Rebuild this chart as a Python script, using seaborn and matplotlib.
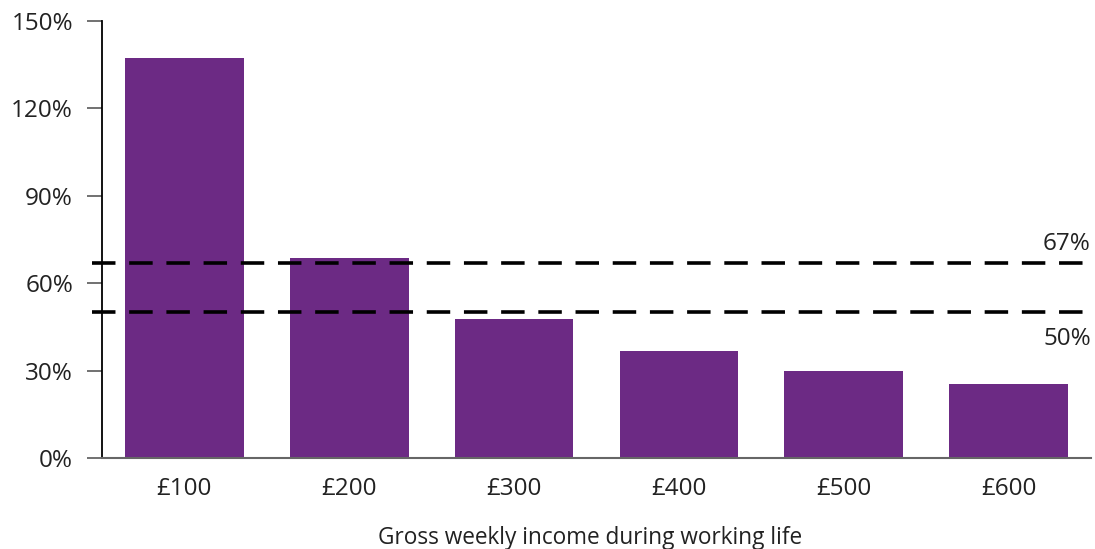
import matplotlib
matplotlib.use("Agg")
import matplotlib.pyplot as plt
import seaborn as sns
import pandas as pd

# Replacement rate by gross weekly income during working life
incomes = ["£100", "£200", "£300", "£400", "£500", "£600"]
replacement_rate = [137.3, 68.6, 47.7, 36.7, 29.9, 25.4]
reference_levels = [67, 50]
y_ticks = [0, 30, 60, 90, 120, 150]

df = pd.DataFrame({"income": incomes, "rate": replacement_rate})

sns.set_theme(style="white")
plt.rcParams["font.family"] = ["Open Sans", "DejaVu Sans"]
text_color = "#222222"

fig = plt.figure(figsize=(10.95, 5.49), dpi=100)
ax = fig.add_axes([102 / 1095, 1 - 458 / 549, (1091 - 102) / 1095, (458 - 21) / 549])

sns.barplot(data=df, x="income", y="rate", color="#6C2A84", saturation=1,
            width=0.72, linewidth=0, ax=ax)

ax.set_xlim(-0.5, 5.5)
ax.set_ylim(0, 150)
ax.set_yticks(y_ticks)
ax.set_yticklabels([f"{v}%" for v in y_ticks])

# Reference lines for 67% and 50% replacement
for lvl in reference_levels:
    ax.hlines(lvl, -0.56, 5.53, colors="black", linewidth=2.6,
              linestyles=(0, (6.5, 3.8)), clip_on=False, zorder=3)
ax.text(5.5, reference_levels[0] + 2.2, f"{reference_levels[0]}%", ha="right",
        va="bottom", fontsize=17.5, color=text_color)
ax.text(5.5, reference_levels[1] - 5.0, f"{reference_levels[1]}%", ha="right",
        va="top", fontsize=17.5, color=text_color)

for side in ["top", "right"]:
    ax.spines[side].set_visible(False)
ax.spines["left"].set_color("black")
ax.spines["left"].set_linewidth(1.3)
ax.spines["bottom"].set_color("#666666")
ax.spines["bottom"].set_linewidth(1.5)

ax.tick_params(axis="y", length=10.8, width=1.3, color="#666666", pad=10,
               labelsize=17.5, labelcolor=text_color, left=True)
ax.tick_params(axis="x", length=0, pad=14, labelsize=17.5, labelcolor=text_color)

ax.set_ylabel("")
ax.set_xlabel("Gross weekly income during working life", fontsize=16.3,
              color=text_color, labelpad=18)
ax.xaxis.set_label_coords(0.4934, -0.155)

fig.savefig("out.png", dpi=100)
